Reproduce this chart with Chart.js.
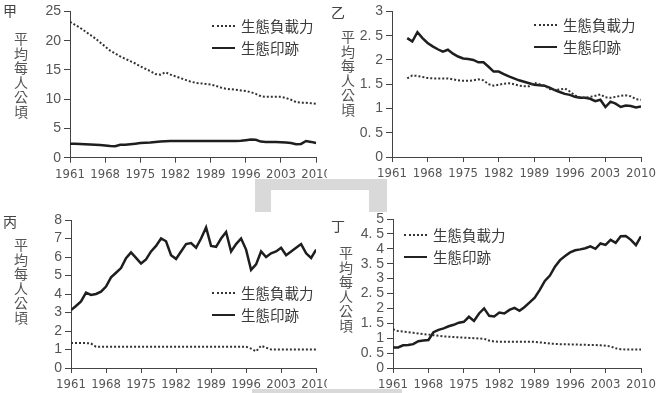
<!DOCTYPE html>
<html>
<head>
<meta charset="utf-8">
<script src="https://cdn.jsdelivr.net/npm/chart.js@4"></script>
<style>
  body { margin:0; width:663px; height:393px; position:relative; background:#fff; overflow:hidden; }
  .wrap { position:absolute; background:#fff; }
  .wrap canvas { position:absolute; left:0; top:0; }
  .letter { position:absolute; font:14px "Noto Sans CJK TC", sans-serif; color:#444; line-height:14px; }
  .ytitle { position:absolute; writing-mode:vertical-rl; text-orientation:upright; font:14px "Noto Sans CJK TC", sans-serif; color:#555; line-height:14px; letter-spacing:0.5px; }
  .legend { position:absolute; font:14.5px "Noto Sans CJK TC", sans-serif; color:#3a3a3a; line-height:22px; white-space:nowrap; }
  .legend .row { height:22px; display:flex; align-items:center; }
  .legend .s { display:inline-block; width:23px; margin-right:6px; }
  .legend .dot { border-top:2px dotted #333; }
  .legend .solid { border-top:2.5px solid #222; }
  .deco { position:absolute; background:#d9d9d9; }
</style>
</head>
<body>
<div class="wrap" id="w0" style="left:0;top:0;width:335px;height:195px"><canvas id="c0" width="335" height="195"></canvas></div>
<div class="wrap" id="w1" style="left:327px;top:0;width:336px;height:195px"><canvas id="c1" width="336" height="195"></canvas></div>
<div class="wrap" id="w2" style="left:0;top:195px;width:327px;height:198px"><canvas id="c2" width="335" height="198"></canvas></div>
<div class="wrap" id="w3" style="left:327px;top:195px;width:336px;height:198px"><canvas id="c3" width="336" height="198"></canvas></div>

<div class="letter" style="left:3px;top:3px">甲</div>
<div class="letter" style="left:331px;top:5px">乙</div>
<div class="letter" style="left:3px;top:214px">丙</div>
<div class="letter" style="left:331px;top:218px">丁</div>

<div class="ytitle" style="left:14px;top:32px">平均每人公頃</div>
<div class="ytitle" style="left:341px;top:30px">平均每人公頃</div>
<div class="ytitle" style="left:14px;top:238px">平均每人公頃</div>
<div class="ytitle" style="left:339px;top:246px">平均每人公頃</div>

<div class="legend" style="left:212px;top:15px"><div class="row"><span class="s dot"></span>生態負載力</div><div class="row"><span class="s solid"></span>生態印跡</div></div>
<div class="legend" style="left:534px;top:14px"><div class="row"><span class="s dot"></span>生態負載力</div><div class="row"><span class="s solid"></span>生態印跡</div></div>
<div class="legend" style="left:212px;top:282px"><div class="row"><span class="s dot"></span>生態負載力</div><div class="row"><span class="s solid"></span>生態印跡</div></div>
<div class="legend" style="left:404px;top:224px"><div class="row"><span class="s dot"></span>生態負載力</div><div class="row"><span class="s solid"></span>生態印跡</div></div>

<div class="deco" style="left:255px;top:179px;width:132px;height:11px"></div>
<div class="deco" style="left:255px;top:179px;width:16px;height:33px"></div>
<div class="deco" style="left:369px;top:179px;width:18px;height:33px"></div>
<div class="deco" style="left:252px;top:389px;width:150px;height:4px"></div>

<script>
// ---- data ----
const years = [1961,1962,1963,1964,1965,1966,1967,1968,1969,1970,
               1971,1972,1973,1974,1975,1976,1977,1978,1979,1980,
               1981,1982,1983,1984,1985,1986,1987,1988,1989,1990,
               1991,1992,1993,1994,1995,1996,1997,1998,1999,2000,
               2001,2002,2003,2004,2005,2006,2007,2008,2009,2010];
const tickYears = [1961,1968,1975,1982,1989,1996,2003,2010];
const legendLabels = ['生態負載力','生態印跡'];

// 甲
const jiaCapacity = [23.2,22.7,22.2,21.6,21.0,20.4,19.7,19.0,18.3,17.8,
                     17.3,16.9,16.5,16.1,15.6,15.2,14.8,14.3,14.2,14.6,
                     14.2,13.9,13.6,13.3,13.0,12.8,12.7,12.6,12.5,12.3,
                     12.0,11.8,11.7,11.6,11.5,11.4,11.2,10.9,10.5,10.4,
                     10.4,10.4,10.4,10.2,9.9,9.5,9.4,9.4,9.3,9.2];
const jiaFootprint = [2.4,2.4,2.35,2.3,2.25,2.2,2.15,2.1,2.0,1.95,
                      2.2,2.2,2.3,2.4,2.5,2.55,2.6,2.7,2.75,2.8,
                      2.85,2.85,2.85,2.85,2.85,2.85,2.85,2.85,2.85,2.85,
                      2.85,2.85,2.85,2.85,2.9,3.0,3.1,3.05,2.75,2.7,
                      2.7,2.7,2.65,2.6,2.5,2.3,2.35,2.85,2.7,2.5];
// 乙 (data from 1964)
const yiCapacity = [null,null,null,1.62,1.68,1.67,1.65,1.63,1.62,1.62,
                    1.62,1.62,1.6,1.58,1.57,1.57,1.58,1.6,1.58,1.5,
                    1.47,1.49,1.51,1.52,1.5,1.47,1.46,1.46,1.53,1.5,
                    1.47,1.4,1.38,1.39,1.41,1.35,1.27,1.23,1.22,1.24,
                    1.26,1.29,1.23,1.22,1.24,1.26,1.27,1.25,1.19,1.18];
const yiFootprint = [null,null,null,2.45,2.38,2.57,2.45,2.35,2.28,2.22,
                     2.17,2.21,2.13,2.07,2.03,2.02,2.0,1.95,1.95,1.86,
                     1.76,1.76,1.71,1.66,1.62,1.58,1.55,1.52,1.49,1.48,
                     1.47,1.43,1.38,1.34,1.3,1.28,1.24,1.22,1.22,1.2,
                     1.15,1.18,1.03,1.14,1.1,1.03,1.06,1.05,1.02,1.04];
// 丙
const bingCapacity = [1.35,1.35,1.35,1.35,1.32,1.15,1.15,1.15,1.15,1.15,
                      1.15,1.15,1.15,1.15,1.15,1.15,1.15,1.15,1.15,1.15,
                      1.15,1.15,1.15,1.15,1.15,1.15,1.15,1.15,1.15,1.15,
                      1.15,1.15,1.15,1.15,1.15,1.15,1.05,0.9,1.2,1.1,
                      1.0,1.0,1.0,1.0,1.0,1.0,1.0,1.0,1.0,1.0];
const bingFootprint = [3.13,3.35,3.6,4.08,3.95,4.0,4.13,4.4,4.9,5.15,
                       5.4,5.93,6.25,5.95,5.65,5.87,6.3,6.6,7.0,6.85,
                       6.1,5.9,6.3,6.7,6.75,6.5,7.0,7.6,6.6,6.55,
                       7.0,7.35,6.3,6.7,7.0,6.4,5.3,5.6,6.3,6.0,
                       6.2,6.3,6.5,6.1,6.3,6.5,6.7,6.2,5.95,6.4];
// 丁
const dingCapacity = [1.3,1.24,1.22,1.2,1.18,1.16,1.14,1.12,1.1,1.08,
                      1.06,1.05,1.04,1.03,1.02,1.01,1.0,0.99,0.98,0.92,
                      0.89,0.88,0.88,0.88,0.88,0.88,0.88,0.88,0.88,0.86,
                      0.84,0.82,0.81,0.8,0.8,0.79,0.79,0.78,0.78,0.77,
                      0.77,0.76,0.75,0.72,0.66,0.63,0.62,0.62,0.62,0.62];
const dingFootprint = [0.69,0.69,0.76,0.77,0.8,0.9,0.92,0.94,1.2,1.28,
                       1.33,1.4,1.45,1.52,1.55,1.72,1.58,1.83,2.0,1.75,
                       1.73,1.86,1.83,1.95,2.02,1.92,2.05,2.2,2.36,2.62,
                       2.92,3.1,3.4,3.62,3.76,3.88,3.95,3.98,4.02,4.08,
                       4.0,4.18,4.13,4.3,4.2,4.42,4.43,4.3,4.12,4.42];

// ---- rendering ----
Chart.defaults.font.family = '"Liberation Sans Narrow", "DejaVu Sans Condensed", sans-serif';
Chart.defaults.color = '#555';

const panels = [
  {canvas:'c0', cap:jiaCapacity,  fp:jiaFootprint,  yMax:25, yStep:5,   area:[70, 9.3, 317, 157.7], w:335, h:195},
  {canvas:'c1', cap:yiCapacity,   fp:yiFootprint,   yMax:3,  yStep:0.5, area:[65, 10, 314, 157],    w:336, h:195},
  {canvas:'c2', cap:bingCapacity, fp:bingFootprint, yMax:8,  yStep:1,   area:[71, 25, 318, 173],    w:335, h:198},
  {canvas:'c3', cap:dingCapacity, fp:dingFootprint, yMax:5,  yStep:0.5, area:[66, 24, 314, 173],    w:336, h:198}
];

const toPts = arr => years.map((y, i) => ({x: y, y: arr[i]}));

panels.forEach(p => {
  const [L, T, R, B] = p.area;
  const xH = 25;
  new Chart(document.getElementById(p.canvas), {
    type: 'line',
    data: {
      datasets: [
        {label: legendLabels[0], data: toPts(p.cap), borderColor:'#333', borderWidth:2, borderDash:[2,2],
         pointRadius:0, tension:0, fill:false},
        {label: legendLabels[1], data: toPts(p.fp), borderColor:'#1e1e1e', borderWidth:2.5,
         pointRadius:0, tension:0, fill:false}
      ]
    },
    options: {
      responsive:false, animation:false, devicePixelRatio:1,
      layout: {padding: {left:0, top:T, right:p.w - R, bottom:p.h - B - xH}},
      plugins: {legend:{display:false}, tooltip:{enabled:false}},
      scales: {
        x: {
          type:'linear', min:1961, max:2010,
          afterBuildTicks: s => { s.ticks = tickYears.map(v => ({value:v})); },
          afterFit: s => { s.height = xH; },
          grid: {display:true, drawOnChartArea:false, drawTicks:true, tickLength:5, color:'#444'},
          border: {display:true, color:'#444', width:1},
          ticks: {font:{size:13}, color:'#555', padding:4, maxRotation:0, autoSkip:false,
                  callback: v => String(v)}
        },
        y: {
          min:0, max:p.yMax,
          afterFit: s => { s.width = L; },
          grid: {display:true, drawOnChartArea:false, drawTicks:true, tickLength:6, color:'#444'},
          border: {display:true, color:'#444', width:1},
          ticks: {stepSize:p.yStep, autoSkip:false, font:{size:14, family:'"Liberation Sans", sans-serif'},
                  color:'#555', padding:3,
                  callback: v => String(v).replace('.', '. ')}
        }
      }
    }
  });
});
</script>
</body>
</html>
